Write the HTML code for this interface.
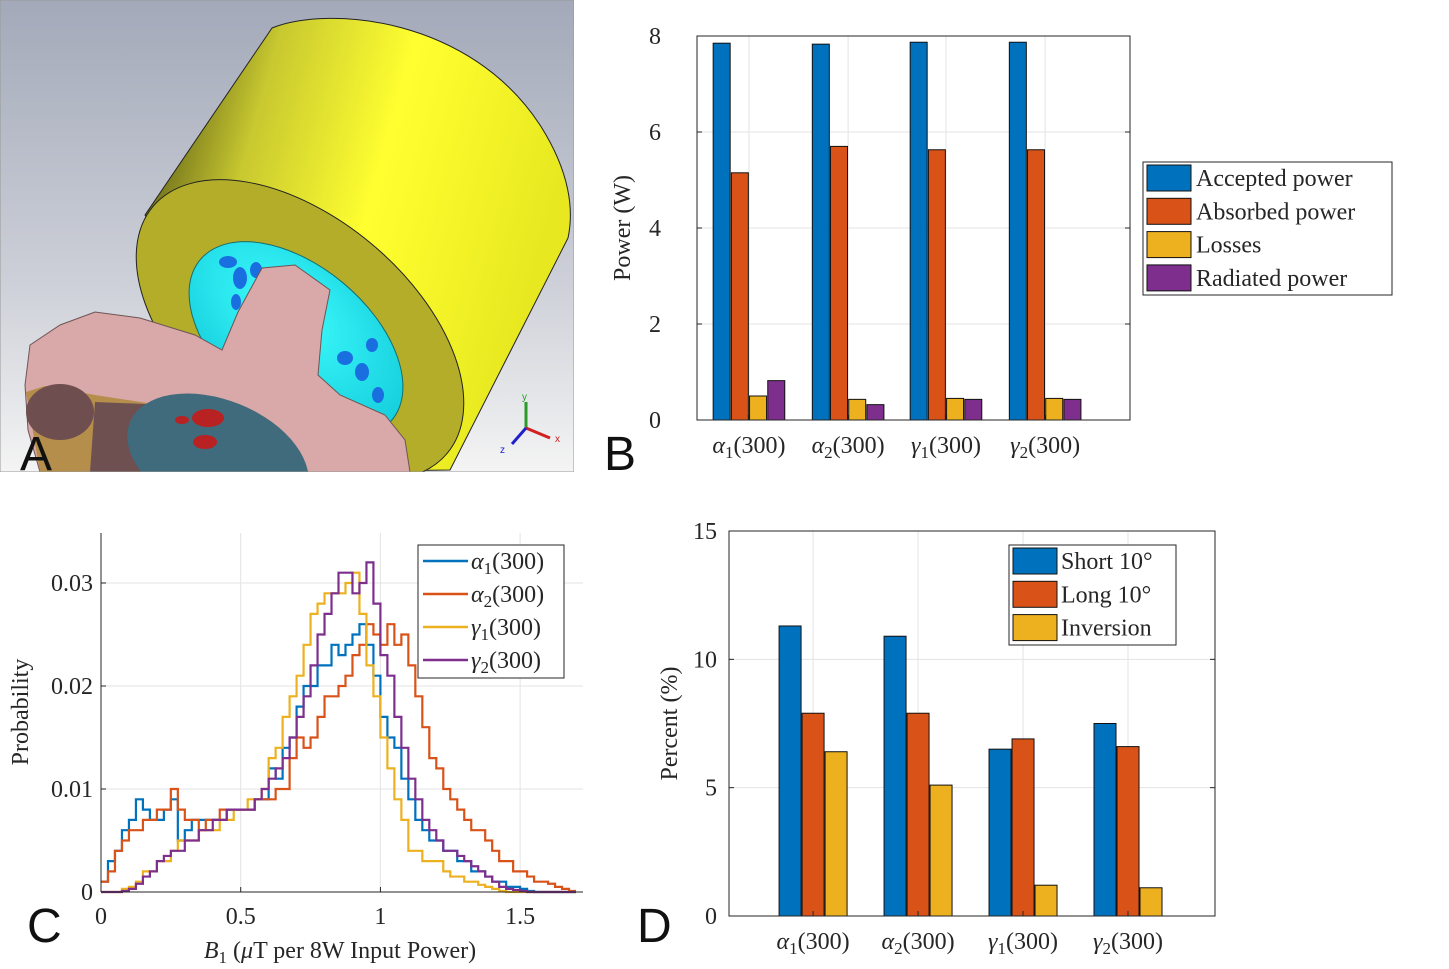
<!DOCTYPE html>
<html><head><meta charset="utf-8"><style>
html,body{margin:0;padding:0;background:#fff;}
svg{display:block;font-family:"Liberation Serif",serif;}
.tk{font-size:24px;fill:#262626;}
.lab{font-family:"Liberation Sans",sans-serif;font-size:48px;fill:#111;}
</style></head><body>
<svg id="fig" width="1449" height="969" viewBox="0 0 1449 969" xmlns="http://www.w3.org/2000/svg">
<defs>
<linearGradient id="bg" x1="0" y1="0" x2="0" y2="1"><stop offset="0" stop-color="#a3a9b9"/><stop offset="0.6" stop-color="#cdd0d8"/><stop offset="1" stop-color="#f4f4f4"/></linearGradient>
<linearGradient id="cyl" x1="0" y1="0" x2="1" y2="0.3"><stop offset="0" stop-color="#3a3a10"/><stop offset="0.3" stop-color="#c8c830"/><stop offset="0.6" stop-color="#ffff30"/><stop offset="1" stop-color="#e8e820"/></linearGradient>
<radialGradient id="cyan" cx="0.4" cy="0.4" r="0.7"><stop offset="0" stop-color="#40ffff"/><stop offset="1" stop-color="#10c8d8"/></radialGradient>
<clipPath id="clipA"><rect x="0" y="0" width="574" height="472"/></clipPath>
</defs>

<!-- Panel A: 3D model -->
<g clip-path="url(#clipA)">
<rect x="0" y="0" width="574" height="472" fill="url(#bg)"/>
<path d="M145 215 L272 28 C330 5 470 18 540 125 C570 172 574 210 568 238 L450 470 L300 472 Z" fill="url(#cyl)" stroke="#222" stroke-width="1"/>
<ellipse cx="300" cy="330" rx="192" ry="112" transform="rotate(40 300 330)" fill="#b3ad2a" stroke="#222" stroke-width="1"/>
<ellipse cx="296" cy="340" rx="125" ry="74" transform="rotate(40 296 340)" fill="url(#cyan)" stroke="#1a6b6b" stroke-width="1"/>
<g fill="#1a6fe0"><ellipse cx="228" cy="262" rx="9" ry="6"/><ellipse cx="240" cy="278" rx="7" ry="11"/><ellipse cx="256" cy="270" rx="6" ry="8"/><ellipse cx="236" cy="302" rx="5" ry="8"/><ellipse cx="345" cy="358" rx="8" ry="7"/><ellipse cx="362" cy="372" rx="7" ry="9"/><ellipse cx="372" cy="345" rx="6" ry="7"/><ellipse cx="378" cy="395" rx="6" ry="8"/></g>
<path d="M25 385 L30 345 L60 325 L95 312 L140 318 L195 335 L222 350 L238 312 L262 268 L295 265 L330 290 L322 330 L318 375 L340 395 L385 415 L405 440 L410 472 L40 472 L28 430 Z" fill="#d9a8a8" stroke="#6d5555" stroke-width="1"/>
<path d="M26 392 L45 386 L95 395 L160 405 L215 425 L275 455 L310 472 L40 472 Z" fill="#b58e4c"/>
<ellipse cx="60" cy="412" rx="34" ry="28" fill="#6e4e4e"/>
<path d="M95 402 L170 405 L245 438 L300 472 L90 472 Z" fill="#6e5050"/>
<ellipse cx="218" cy="458" rx="95" ry="58" transform="rotate(22 218 458)" fill="#3f6b7d"/>
<g fill="#b82222"><ellipse cx="208" cy="418" rx="16" ry="9"/><ellipse cx="205" cy="442" rx="12" ry="7"/><ellipse cx="182" cy="420" rx="7" ry="4"/></g>
<rect x="0" y="0" width="574" height="472" fill="none" stroke="#999" stroke-width="1"/>
<g font-family="Liberation Sans,sans-serif" font-size="10">
<line x1="526" y1="428" x2="526" y2="402" stroke="#2a9a2a" stroke-width="3"/>
<line x1="526" y1="428" x2="550" y2="438" stroke="#d02020" stroke-width="3"/>
<line x1="526" y1="428" x2="512" y2="444" stroke="#2020d0" stroke-width="3"/>
<text x="522" y="400" fill="#2a9a2a">y</text><text x="555" y="442" fill="#d02020">x</text><text x="500" y="453" fill="#2020d0">z</text></g>
</g>
<text class="lab" x="20" y="470">A</text>
<text class="lab" x="604" y="470">B</text>
<text class="lab" x="27" y="942">C</text>
<text class="lab" x="637" y="942">D</text>

<g id="pb"></g>
<g id="pc"></g>
<g id="pd"></g>
</svg>
<script>
// Panel B data
const bCategories = ["α|1","α|2","γ|1","γ|2"];
const bSeriesNames = ["Accepted power","Absorbed power","Losses","Radiated power"];
const bAccepted = [7.85, 7.83, 7.87, 7.87];
const bAbsorbed = [5.15, 5.70, 5.63, 5.63];
const bLosses = [0.50, 0.43, 0.45, 0.45];
const bRadiated = [0.82, 0.32, 0.43, 0.43];
const bYTicks = [0, 2, 4, 6, 8];

// Panel D data
const dCategories = ["α|1","α|2","γ|1","γ|2"];
const dSeriesNames = ["Short 10°","Long 10°","Inversion"];
const dShort = [11.3, 10.9, 6.5, 7.5];
const dLong = [7.9, 7.9, 6.9, 6.6];
const dInversion = [6.4, 5.1, 1.2, 1.1];
const dYTicks = [0, 5, 10, 15];

// Panel C data (probability per 0.025 bin starting at 0)
const cSeriesNames = ["α|1","α|2","γ|1","γ|2"];
const cBinWidth = 0.025;
const cAlpha1 = [0.001,0.003,0.004,0.006,0.007,0.009,0.008,0.007,0.007,0.008,0.009,0.005,0.006,0.007,0.007,0.007,0.007,0.007,0.008,0.008,0.008,0.008,0.009,0.009,0.012,0.011,0.014,0.015,0.018,0.020,0.020,0.022,0.022,0.024,0.023,0.024,0.025,0.026,0.024,0.021,0.017,0.015,0.014,0.011,0.009,0.007,0.006,0.005,0.005,0.004,0.004,0.003,0.003,0.002,0.002,0.0015,0.001,0.001,0.0005,0.0005,0.0003,0.0001,0,0,0,0,0,0];
const cAlpha2 = [0.001,0.002,0.004,0.005,0.006,0.006,0.007,0.007,0.008,0.008,0.010,0.008,0.007,0.007,0.006,0.007,0.007,0.008,0.008,0.008,0.008,0.008,0.009,0.009,0.009,0.010,0.010,0.013,0.015,0.014,0.015,0.017,0.019,0.019,0.020,0.021,0.023,0.024,0.026,0.025,0.024,0.026,0.024,0.025,0.022,0.019,0.016,0.013,0.012,0.010,0.009,0.008,0.007,0.006,0.006,0.005,0.004,0.003,0.003,0.002,0.002,0.0015,0.001,0.001,0.0008,0.0005,0.0003,0.0001];
const cGamma1 = [0,0,0,0.0003,0.0005,0.001,0.002,0.002,0.003,0.003,0.004,0.005,0.005,0.005,0.006,0.006,0.006,0.007,0.007,0.008,0.008,0.009,0.009,0.010,0.013,0.014,0.017,0.019,0.021,0.024,0.027,0.028,0.029,0.029,0.029,0.030,0.031,0.027,0.022,0.019,0.015,0.012,0.009,0.007,0.004,0.004,0.003,0.003,0.003,0.002,0.0015,0.0015,0.001,0.001,0.0007,0.0005,0.0003,0.0001,0,0,0,0,0,0,0,0,0,0];
const cGamma2 = [0,0,0,0.0001,0.0003,0.0008,0.0015,0.002,0.003,0.0035,0.004,0.004,0.005,0.005,0.006,0.006,0.007,0.007,0.008,0.008,0.008,0.008,0.009,0.010,0.011,0.012,0.013,0.015,0.017,0.019,0.022,0.025,0.027,0.029,0.031,0.031,0.029,0.030,0.032,0.028,0.023,0.021,0.017,0.014,0.011,0.009,0.007,0.006,0.005,0.004,0.004,0.0035,0.003,0.0025,0.002,0.0015,0.001,0.0005,0.0003,0.0002,0.0001,0,0,0,0,0,0,0];
const cXTicks = [0, 0.5, 1, 1.5];
const cYTicks = [0, 0.01, 0.02, 0.03];

const NS = "http://www.w3.org/2000/svg";
const COLORS = ["#0072BD","#D95319","#EDB120","#7E2F8E"];
function mk(parent, tag, attrs, txt){
  const e = document.createElementNS(NS, tag);
  for (const k in attrs) e.setAttribute(k, attrs[k]);
  if (txt !== undefined) e.textContent = txt;
  parent.appendChild(e);
  return e;
}
function subLabel(parent, x, y, spec, suffix, anchor){
  const [g, s] = spec.split("|");
  const t = mk(parent, "text", {x:x, y:y, "text-anchor":anchor||"middle", "class":"tk"});
  mk(t, "tspan", {"font-style":"italic"}, g);
  mk(t, "tspan", {"font-size":"17", dy:"5"}, s);
  mk(t, "tspan", {dy:"-5"}, suffix);
  return t;
}

function barChart(root, cfg){
  const {L,R,T,B,ymax,cats,series,yTicks,frac,barStep,barW,ylabel,ylabelX,ylabOff} = cfg;
  const y = v => B - (v/ymax)*(B-T);
  const x = i => L + (R-L)*frac[i];
  cats.forEach((c,i)=>{
    const gl = mk(root,"line",{x1:x(i),x2:x(i),y1:T,y2:B,stroke:"#e3e3e3","stroke-width":1});
    
    
  });
  yTicks.forEach(v=>{
    const gl = mk(root,"line",{x1:L,x2:R,y1:y(v),y2:y(v),stroke:"#e3e3e3","stroke-width":1});
    
    
    const t = mk(root,"text",{x:L-ylabOff,y:y(v)+8,"text-anchor":"end","class":"tk"},String(v));
    
    
    mk(root,"line",{x1:L,x2:L+5,y1:y(v),y2:y(v),stroke:"#262626"});
    mk(root,"line",{x1:R,x2:R-5,y1:y(v),y2:y(v),stroke:"#262626"});
  });
  const n = series.length;
  series.forEach((s,si)=>{
    s.forEach((v,i)=>{
      const cx = x(i) + (si-(n-1)/2)*barStep;
      const r = mk(root,"rect",{x:cx-barW/2,y:y(v),width:barW,height:B-y(v),fill:COLORS[si],stroke:"#111","stroke-width":1});
      
      
    });
  });
  const box = mk(root,"rect",{x:L,y:T,width:R-L,height:B-T,fill:"none",stroke:"#262626","stroke-width":1});
  
  
  cats.forEach((c,i)=>{
    const t = subLabel(root, x(i), B+33, c, "(300)");
    
    
    mk(root,"line",{x1:x(i),x2:x(i),y1:B,y2:B-5,stroke:"#262626"});
  });
  const yl = mk(root,"text",{x:ylabelX,y:(T+B)/2,"text-anchor":"middle","class":"tk",transform:`rotate(-90 ${ylabelX} ${(T+B)/2})`},ylabel);
  
  
}
function legend(root, cfg){
  const {x0,y0,w,h,names,rowH,sw,textX,swatch} = cfg;
  const g = mk(root,"g",{});
  
  
  mk(g,"rect",{x:x0,y:y0,width:w,height:h,fill:"#fff",stroke:"#262626","stroke-width":1});
  names.forEach((nm,i)=>{
    const cy = y0 + 16 + i*rowH;
    const e = mk(g,"g",{});
    
    
    if (swatch==="line"){
      mk(e,"line",{x1:x0+5,x2:x0+50,y1:cy,y2:cy,stroke:COLORS[i],"stroke-width":2.5});
      subLabel(e, x0+53, cy+8, nm, "(300)", "start");
    } else {
      mk(e,"rect",{x:x0+4,y:cy-13,width:sw,height:26,fill:COLORS[i],stroke:"#111"});
      mk(e,"text",{x:textX,y:cy+8,"class":"tk"},nm);
    }
  });
}

barChart(document.getElementById("pb"),{L:697,R:1130,T:36,B:420,ymax:8,cats:bCategories,
  series:[bAccepted,bAbsorbed,bLosses,bRadiated],names:bSeriesNames,yTicks:bYTicks,
  frac:[0.120,0.349,0.575,0.804],barStep:18.2,barW:17,ylabel:"Power (W)",ylabelX:630,ylabOff:36});
legend(document.getElementById("pb"),{x0:1143,y0:162,w:249,h:133,names:bSeriesNames,rowH:33.3,sw:44,textX:1196});

barChart(document.getElementById("pd"),{L:729,R:1215,T:531,B:916,ymax:15,cats:dCategories,
  series:[dShort,dLong,dInversion],names:dSeriesNames,yTicks:dYTicks,
  frac:[0.173,0.389,0.605,0.821],barStep:23,barW:22,ylabel:"Percent (%)",ylabelX:677,ylabOff:12});
legend(document.getElementById("pd"),{x0:1009,y0:545,w:167,h:100,names:dSeriesNames,rowH:33.3,sw:44,textX:1061});

// Panel C
(function(){
  const root = document.getElementById("pc");
  const L=101, R=583, T=533, B=892, xmax=1.7;
  const xs = v => L + (v/xmax)*(576-101);
  const ys = v => B - (v/0.03)*(B-583);
  cXTicks.forEach(v=>{
    const gl = mk(root,"line",{x1:xs(v),x2:xs(v),y1:T,y2:B,stroke:"#e3e3e3"});
    
    
    mk(root,"line",{x1:xs(v),x2:xs(v),y1:B,y2:B-5,stroke:"#262626"});
    const t = mk(root,"text",{x:xs(v),y:B+32,"text-anchor":"middle","class":"tk"},String(v));
    
    
  });
  cYTicks.forEach(v=>{
    const gl = mk(root,"line",{x1:L,x2:R,y1:ys(v),y2:ys(v),stroke:"#e3e3e3"});
    
    
    mk(root,"line",{x1:L,x2:L+5,y1:ys(v),y2:ys(v),stroke:"#262626"});
    const t = mk(root,"text",{x:L-8,y:ys(v)+8,"text-anchor":"end","class":"tk"},String(v));
    
    
  });
  [cAlpha1,cAlpha2,cGamma1,cGamma2].forEach((s,si)=>{
    let d = "";
    s.forEach((v,i)=>{
      const x0 = xs(i*cBinWidth), x1 = xs((i+1)*cBinWidth), yy = ys(v);
      d += (i===0 ? `M${x0},${yy}` : `L${x0},${yy}`) + `L${x1},${yy}`;
    });
    const p = mk(root,"path",{d:d,fill:"none",stroke:COLORS[si],"stroke-width":2.2});
    
    
  });
  mk(root,"line",{x1:L,x2:L,y1:T,y2:B,stroke:"#262626"});
  mk(root,"line",{x1:L,x2:R,y1:B,y2:B,stroke:"#262626"});
  const yl = mk(root,"text",{x:28,y:712,"text-anchor":"middle","class":"tk",transform:"rotate(-90 28 712)"},"Probability");
  
  
  const xl = mk(root,"text",{x:340,y:958,"text-anchor":"middle","class":"tk"});
  
  
  mk(xl,"tspan",{"font-style":"italic"},"B");
  mk(xl,"tspan",{"font-size":"17",dy:"5"},"1");
  mk(xl,"tspan",{dy:"-5"}," (");
  mk(xl,"tspan",{"font-style":"italic"},"μ");
  mk(xl,"tspan",{},"T per 8W Input Power)");
  legend(root,{x0:418,y0:545,w:146,h:133,names:cSeriesNames,rowH:33,swatch:"line"});
})();
</script>
</body></html>
